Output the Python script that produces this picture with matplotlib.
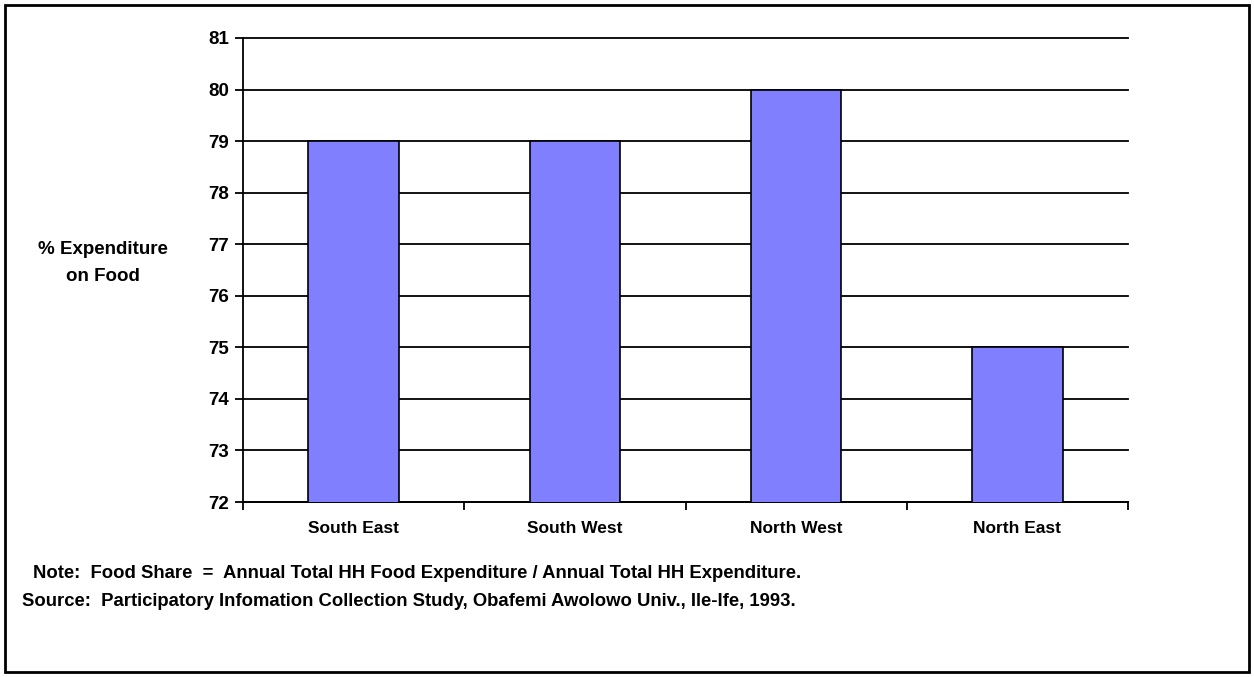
import numpy as np
import matplotlib.pyplot as plt
from matplotlib.patches import Rectangle

plt.rcParams['font.family'] = ['Liberation Sans', 'DejaVu Sans']
plt.rcParams['font.weight'] = 'bold'

regions = ["South East", "South West", "North West", "North East"]
food_share = [79, 79, 80, 75]
y_ticks = [72, 73, 74, 75, 76, 77, 78, 79, 80, 81]

W, H = 1254, 677
fig = plt.figure(figsize=(W / 100, H / 100), dpi=100)
ax = fig.add_axes([243 / W, 1 - 502 / H, (1128 - 243) / W, (502 - 38) / H])

x = np.arange(len(regions))
ax.bar(x, food_share, width=0.41, color='#8080FF', edgecolor='black',
       linewidth=1.2, zorder=3)

ax.set_ylim(72, 81)
ax.set_xlim(-0.5, len(regions) - 0.5)
ax.set_yticks(y_ticks)
ax.yaxis.grid(True, color='black', linewidth=1.3, zorder=0)
ax.set_axisbelow(True)
for gl in ax.get_ygridlines():
    gl.set_clip_on(False)

# category ticks sit between the bars
ax.set_xticks(np.arange(len(regions) + 1) - 0.5)
ax.set_xticklabels([])
ax.set_xticks(x, minor=True)
ax.set_xticklabels(regions, minor=True, fontsize=12.5, fontweight='bold')
ax.tick_params(axis='x', which='minor', length=0, pad=14)
ax.tick_params(axis='x', which='major', length=6, width=1.3, direction='out')
ax.tick_params(axis='y', length=6, width=1.3, direction='out', labelsize=13.5, pad=4)
for lab in ax.get_yticklabels():
    lab.set_fontweight('bold')

for s in ['top', 'right']:
    ax.spines[s].set_visible(False)
for s in ['left', 'bottom']:
    ax.spines[s].set_linewidth(1.3)

fig.text(103 / W, 1 - 263 / H, "% Expenditure\non Food", ha='center', va='center',
         fontsize=13.5, fontweight='bold', linespacing=1.75)

fig.text(33 / W, 1 - 573 / H,
         "Note:  Food Share  =  Annual Total HH Food Expenditure / Annual Total HH Expenditure.",
         ha='left', va='center', fontsize=13.3, fontweight='bold')
fig.text(22 / W, 1 - 601 / H,
         "Source:  Participatory Infomation Collection Study, Obafemi Awolowo Univ., Ile-Ife, 1993.",
         ha='left', va='center', fontsize=13.3, fontweight='bold')

fig.patches.append(Rectangle((5 / W, 5 / H), (W - 10) / W, (H - 10) / H,
                             transform=fig.transFigure, fill=False,
                             edgecolor='black', linewidth=2))

fig.savefig("out.png", dpi=100)
